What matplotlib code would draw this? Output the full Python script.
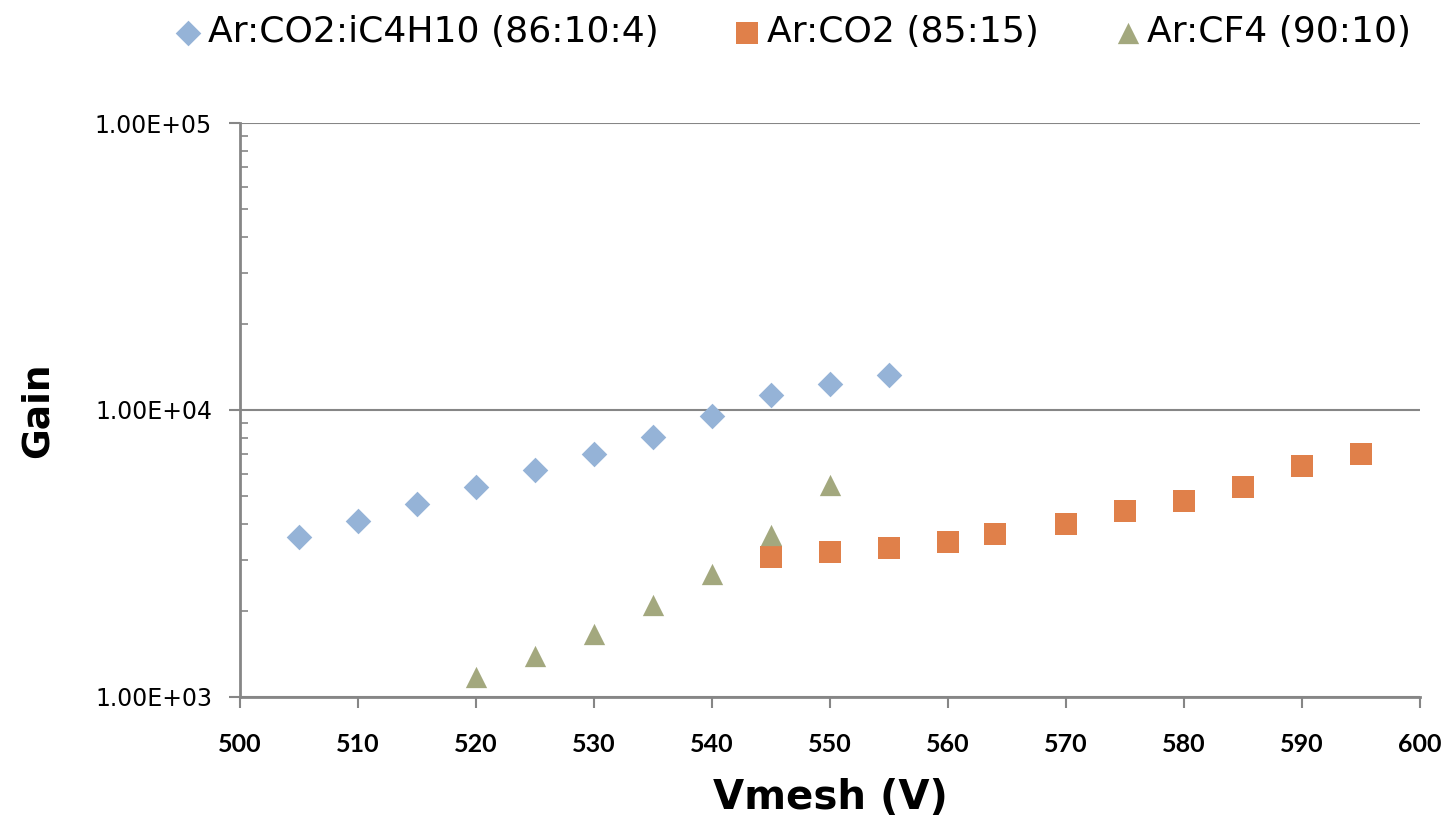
"""Gain versus mesh voltage for three gas mixtures (log scale)."""

import matplotlib

matplotlib.use("Agg")
import matplotlib.pyplot as plt
from matplotlib.ticker import FixedLocator, LogLocator, NullFormatter

# data
VMESH_ISO = [505, 510, 515, 520, 525, 530, 535, 540, 545, 550, 555]
GAIN_ISO = [3610, 4100, 4700, 5400, 6180, 7030, 8060, 9530, 11270, 12330, 13250]

VMESH_CO2 = [545, 550, 555, 560, 564, 570, 575, 580, 585, 590, 595]
GAIN_CO2 = [3080, 3200, 3300, 3465, 3700, 4010, 4450, 4820, 5400, 6380, 7030]

VMESH_CF4 = [520, 525, 530, 535, 540, 545, 550]
GAIN_CF4 = [1174, 1390, 1658, 2092, 2683, 3665, 5480]

LABEL_ISO = "Ar:CO2:iC4H10 (86:10:4)"
LABEL_CO2 = "Ar:CO2 (85:15)"
LABEL_CF4 = "Ar:CF4 (90:10)"

X_TICKS = list(range(500, 601, 10))
Y_TICKS = [1e3, 1e4, 1e5]
Y_TICK_LABELS = ["1.00E+03", "1.00E+04", "1.00E+05"]

GRAY = "#868686"


def make_figure():
    fig = plt.figure(figsize=(14.48, 8.19), dpi=100)
    ax = fig.add_axes([0.1657, 0.149, 0.815, 0.7008])

    ax.scatter(VMESH_ISO, GAIN_ISO, marker="D", s=170, color="#95B3D7",
               linewidths=0, label=LABEL_ISO, zorder=3)
    ax.scatter(VMESH_CO2, GAIN_CO2, marker="s", s=245, color="#E0804A",
               linewidths=0, label=LABEL_CO2, zorder=3)
    ax.scatter(VMESH_CF4, GAIN_CF4, marker="^", s=235, color="#A3A87E",
               linewidths=0, label=LABEL_CF4, zorder=3)

    ax.set_yscale("log")
    ax.set_xlim(500, 600)
    ax.set_ylim(1e3, 1e5)

    ax.xaxis.set_major_locator(FixedLocator(X_TICKS))
    ax.set_xticklabels([str(v) for v in X_TICKS], fontsize=18,
                       fontweight="bold", family="Lato")
    ax.yaxis.set_major_locator(FixedLocator(Y_TICKS))
    ax.set_yticklabels(Y_TICK_LABELS, fontsize=17, family="DejaVu Sans")
    ax.yaxis.set_minor_locator(LogLocator(base=10, subs=range(2, 10)))
    ax.yaxis.set_minor_formatter(NullFormatter())

    ax.tick_params(axis="x", which="major", direction="out", length=8,
                   width=1.5, color=GRAY, pad=18)
    ax.tick_params(axis="y", which="major", direction="out", length=8,
                   width=1.5, color=GRAY, pad=12)
    ax.tick_params(axis="y", which="minor", direction="in", length=6,
                   width=1.2, color=GRAY)

    ax.grid(True, axis="y", which="major", color=GRAY, linewidth=1.5)
    for side in ("top", "right"):
        ax.spines[side].set_visible(False)
    for side in ("left", "bottom"):
        ax.spines[side].set_color(GRAY)
        ax.spines[side].set_linewidth(2.0)

    ax.set_xlabel("Vmesh (V)", fontsize=29, fontweight="bold", labelpad=16)
    ax.set_ylabel("Gain", fontsize=27, fontweight="bold")
    ax.yaxis.set_label_coords(-0.156, 0.5)

    fig.legend(loc="upper center", bbox_to_anchor=(0.548, 1.012), ncol=3,
               frameon=False, fontsize=26, handlelength=0.7,
               handletextpad=0.2, columnspacing=2.1, borderaxespad=0.3)
    return fig


def main() -> None:
    fig = make_figure()
    fig.savefig("out.png", dpi=100)
    plt.close(fig)


if __name__ == "__main__":
    main()
